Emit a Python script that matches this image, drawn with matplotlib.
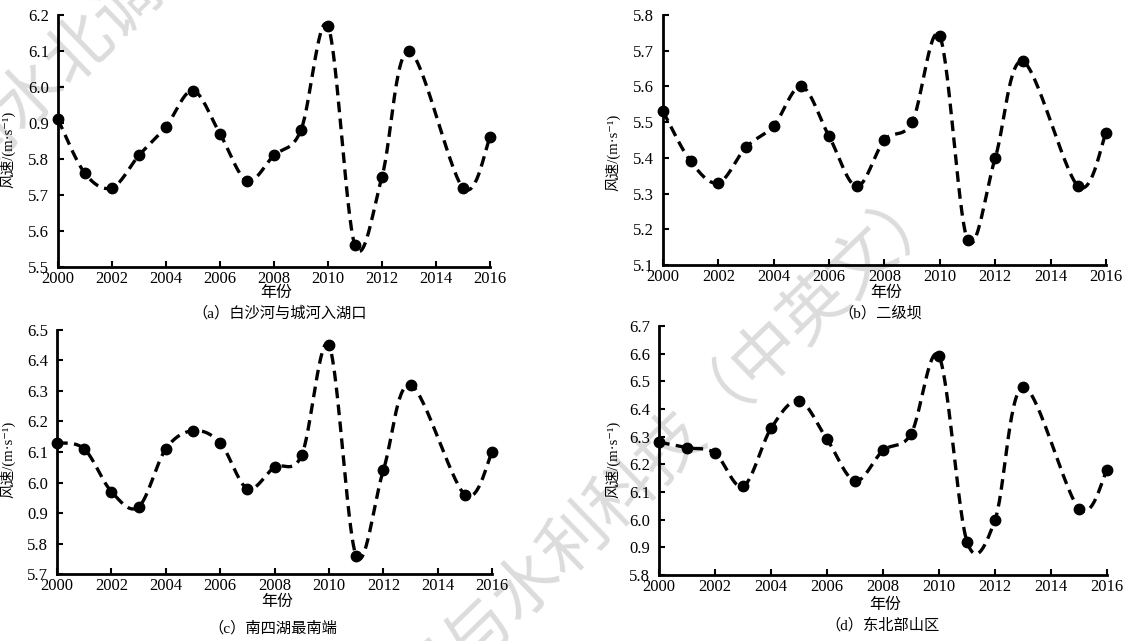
import numpy as np
import matplotlib
matplotlib.use("Agg")
import matplotlib.pyplot as plt

# years with observations (no 2014 point in the source)
years = [2000, 2001, 2002, 2003, 2004, 2005, 2006, 2007, 2008, 2009,
         2010, 2011, 2012, 2013, 2015, 2016]

speed_a = [5.91, 5.76, 5.72, 5.81, 5.89, 5.99, 5.87, 5.74, 5.81, 5.88,
           6.17, 5.56, 5.75, 6.10, 5.72, 5.86]
speed_b = [5.53, 5.39, 5.33, 5.43, 5.49, 5.60, 5.46, 5.32, 5.45, 5.50,
           5.74, 5.17, 5.40, 5.67, 5.32, 5.47]
speed_c = [6.13, 6.11, 5.97, 5.92, 6.11, 6.17, 6.13, 5.98, 6.05, 6.09,
           6.45, 5.76, 6.04, 6.32, 5.96, 6.10]
speed_d = [6.28, 6.26, 6.24, 6.12, 6.33, 6.43, 6.29, 6.14, 6.25, 6.31,
           6.59, 5.92, 6.00, 6.48, 6.04, 6.18]

# y tick values and the labels as printed in the source figure
yticks_a = [5.5, 5.6, 5.7, 5.8, 5.9, 6.0, 6.1, 6.2]
ylabels_a = ["5.5", "5.6", "5.7", "5.8", "0.9", "6.0", "6.1", "6.2"]
yticks_b = [5.1, 5.2, 5.3, 5.4, 5.5, 5.6, 5.7, 5.8]
ylabels_b = ["5.1", "5.2", "5.3", "5.4", "5.5", "5.6", "5.7", "5.8"]
yticks_c = [5.7, 5.8, 5.9, 6.0, 6.1, 6.2, 6.3, 6.4, 6.5]
ylabels_c = ["5.7", "5.8", "0.9", "6.0", "6.1", "6.2", "6.3", "6.4", "6.5"]
yticks_d = [5.8, 5.9, 6.0, 6.1, 6.2, 6.3, 6.4, 6.5, 6.6, 6.7]
ylabels_d = ["5.8", "0.9", "6.0", "6.1", "6.2", "6.3", "6.4", "6.5", "6.6", "6.7"]

xticks = [2000, 2002, 2004, 2006, 2008, 2010, 2012, 2014, 2016]

captions = ["（a）白沙河与城河入湖口", "（b）二级坝", "（c）南四湖最南端", "（d）东北部山区"]
ylabel = "风速/(m·s⁻¹)"
xlabel = "年份"
watermark = "南水北调与水利科技（中英文）"

fonts = ["Liberation Serif", "Noto Sans CJK SC", "DejaVu Sans"]
plt.rcParams["font.family"] = fonts


def smooth(x, y, n=30):
    # Catmull-Rom curve through the points, like a "smoothed line" chart
    p = np.column_stack([x, y]).astype(float)
    p = np.vstack([p[0], p, p[-1]])
    t = np.linspace(0, 1, n, endpoint=False)[:, None]
    segs = []
    for i in range(1, len(p) - 2):
        p0, p1, p2, p3 = p[i - 1], p[i], p[i + 1], p[i + 2]
        segs.append(0.5 * (2 * p1 + (-p0 + p2) * t
                           + (2 * p0 - 5 * p1 + 4 * p2 - p3) * t ** 2
                           + (-p0 + 3 * p1 - 3 * p2 + p3) * t ** 3))
    segs.append(p[-2][None, :])
    return np.vstack(segs)


fig = plt.figure(figsize=(11.32, 6.41), dpi=100)

# light diagonal journal watermark behind the panels
for wx, wy in [(295 / 1132, 1 + 160 / 641), (599 / 1132, 1 - 516 / 641)]:
    fig.text(wx, wy, watermark, rotation=44, rotation_mode="anchor",
             ha="center", va="center", fontsize=48, color="#dcdcdc",
             family="Noto Sans CJK SC", fontweight="light", zorder=-1)

panels = [
    # rect, data, ticks, labels, ylabel pos, xlabel y, caption (x, y)
    ([0.0512, 0.5835, 0.3816, 0.393], speed_a, yticks_a, ylabels_a, (-0.098, 0.468), -0.103, (0.514, -0.183)),
    ([0.5857, 0.5866, 0.3913, 0.390], speed_b, yticks_b, ylabels_b, (-0.097, 0.452), -0.112, (0.490, -0.192)),
    ([0.0504, 0.1045, 0.3843, 0.3807], speed_c, yticks_c, ylabels_c, (-0.095, 0.471), -0.115, (0.497, -0.221)),
    ([0.5822, 0.1030, 0.3958, 0.3885], speed_d, yticks_d, ylabels_d, (-0.087, 0.466), -0.120, (0.498, -0.200)),
]

for (rect, vals, yt, yl, ylpos, xly, cap), caption in zip(panels, captions):
    ax = fig.add_axes(rect)
    ax.set_facecolor("none")
    curve = smooth(years, vals)
    ax.plot(curve[:, 0], curve[:, 1], color="black", lw=2.4,
            linestyle=(0, (3.2, 1.9)), clip_on=False, zorder=3)
    ax.plot(years, vals, "o", color="black", ms=7.5, clip_on=False, zorder=4)

    ax.set_xlim(2000, 2016)
    ax.set_ylim(yt[0], yt[-1])
    ax.set_xticks(xticks)
    ax.set_yticks(yt)
    ax.set_yticklabels(yl)
    ax.tick_params(direction="in", length=4.5, width=1.5, labelsize=12)
    ax.tick_params(axis="x", pad=3)
    ax.tick_params(axis="y", pad=6.5)

    for side in ["top", "right"]:
        ax.spines[side].set_visible(False)
    for side in ["left", "bottom"]:
        ax.spines[side].set_linewidth(2.0)

    ax.set_ylabel(ylabel, fontsize=10.5)
    ax.yaxis.set_label_coords(*ylpos)
    ax.text(0.505, xly, xlabel, transform=ax.transAxes, ha="center", va="center", fontsize=11.5)
    ax.text(cap[0], cap[1], caption, transform=ax.transAxes, ha="center", va="center", fontsize=11)

fig.savefig("out.png", dpi=100)
